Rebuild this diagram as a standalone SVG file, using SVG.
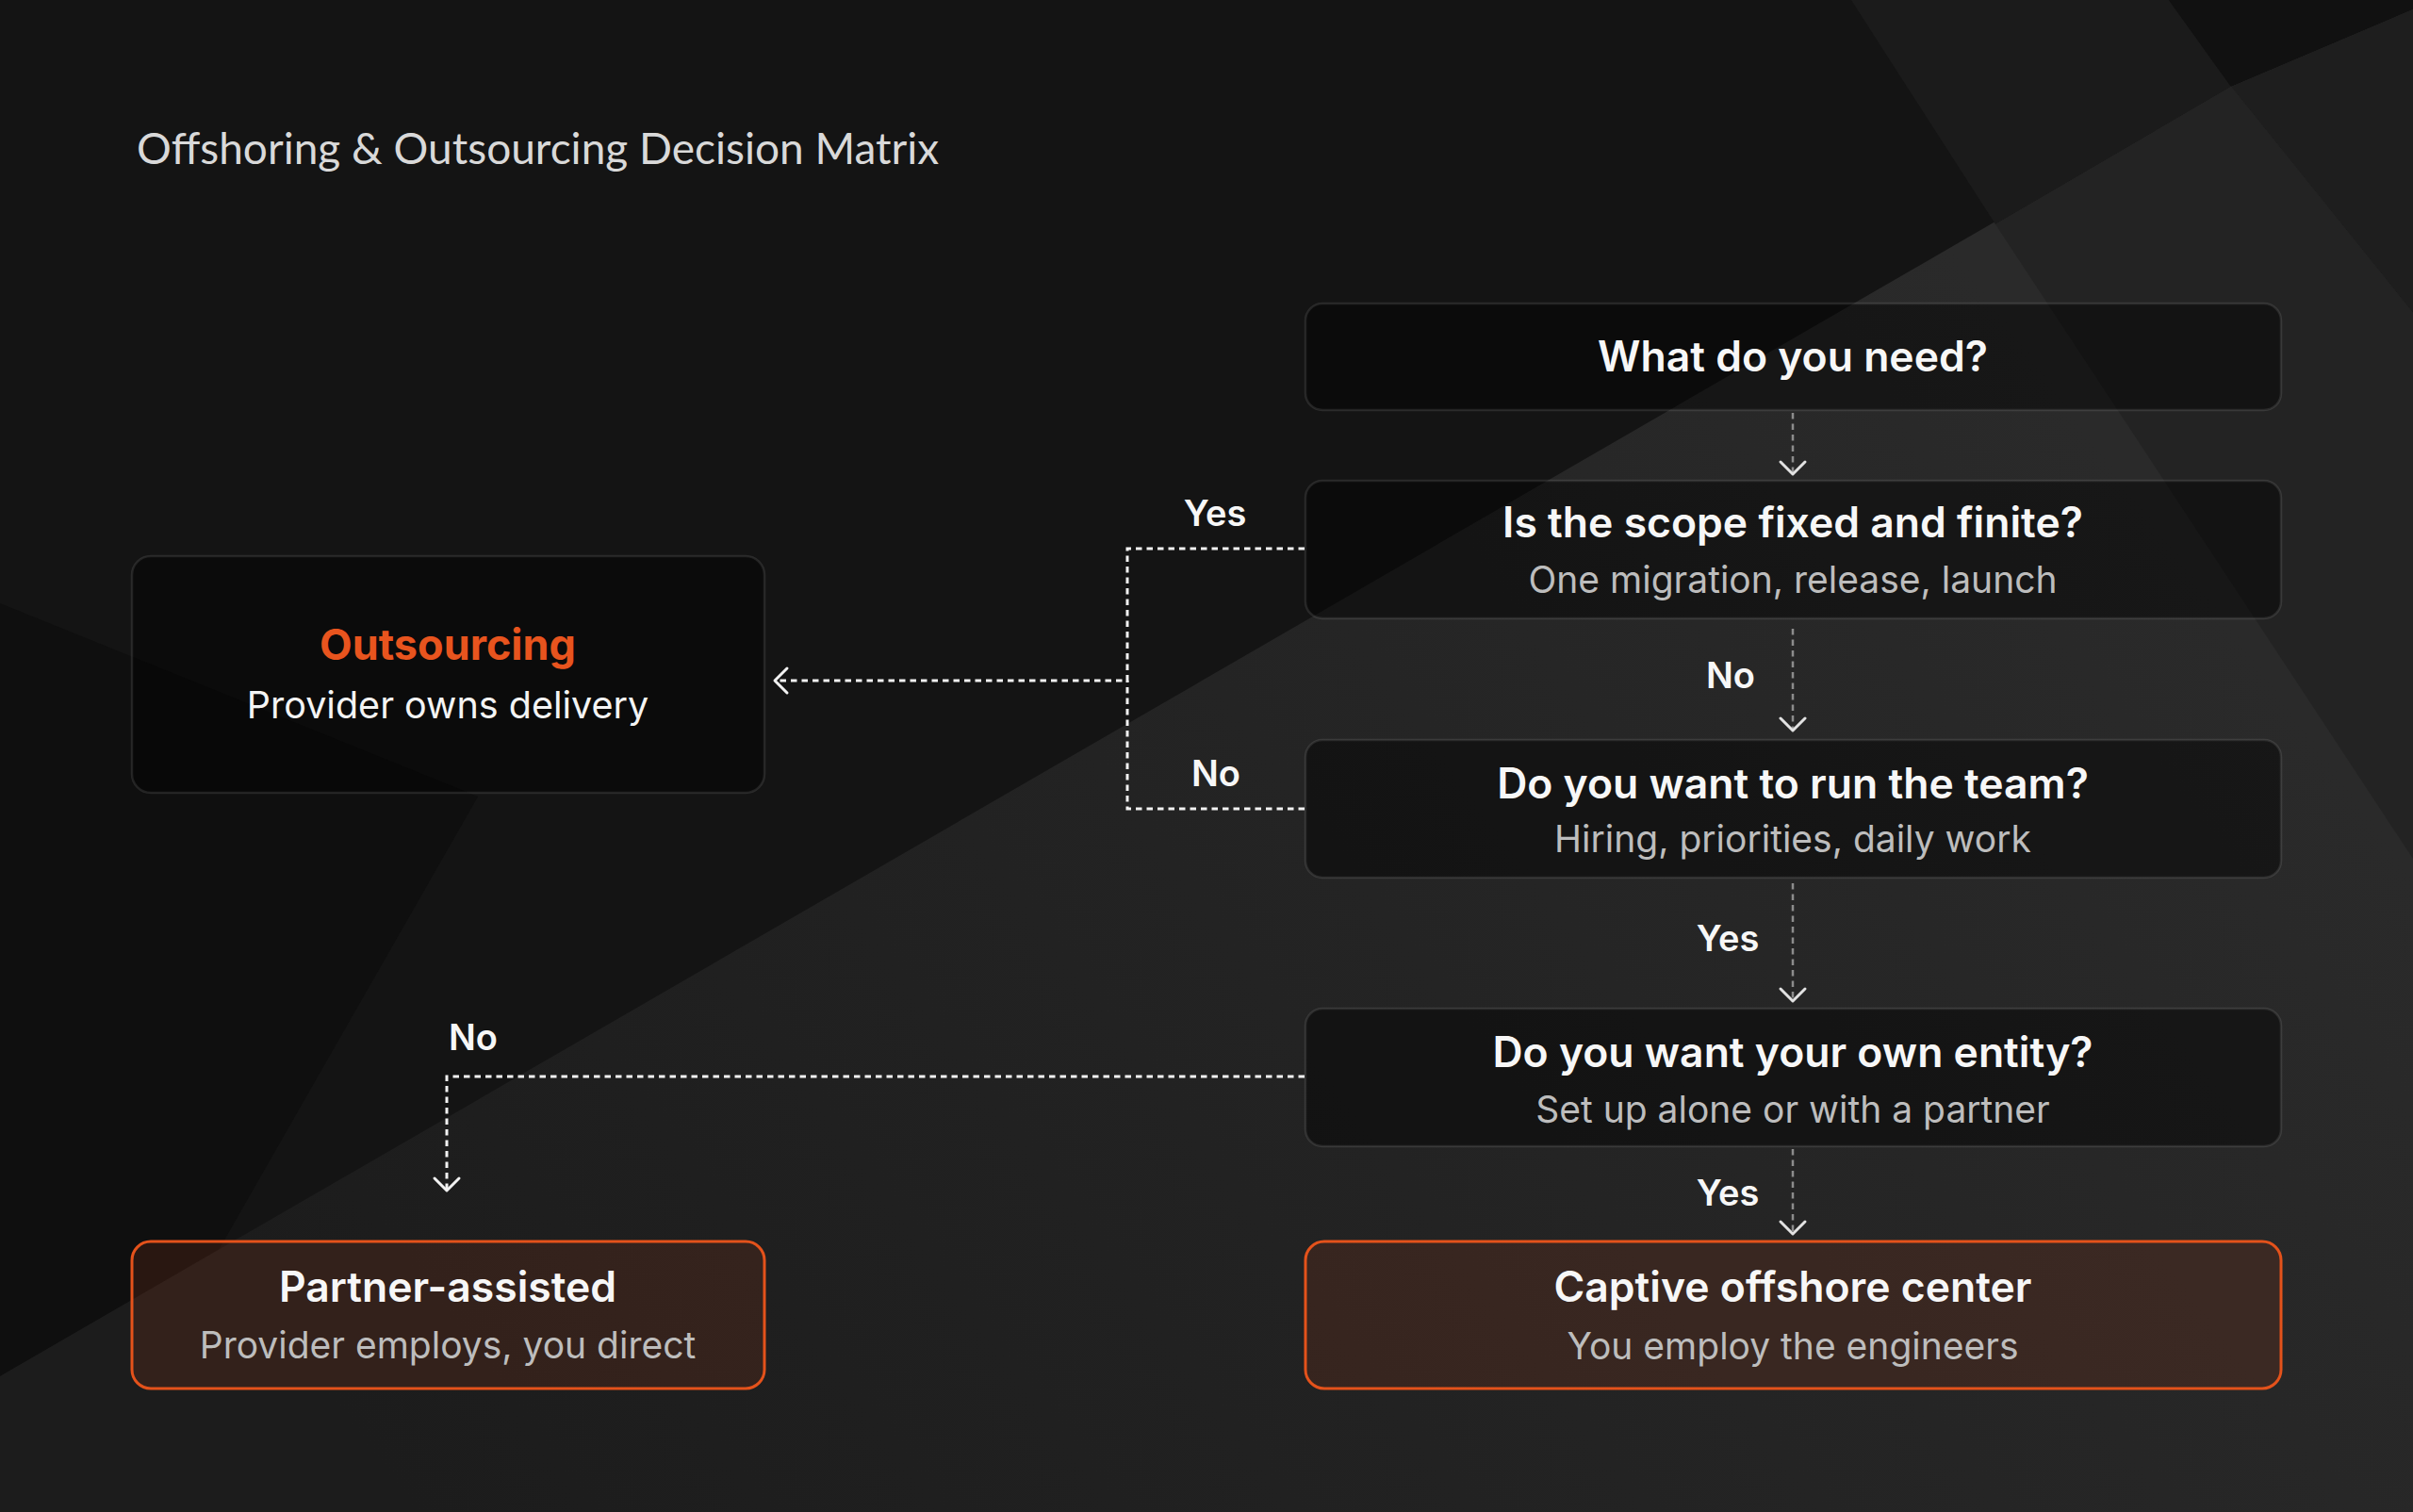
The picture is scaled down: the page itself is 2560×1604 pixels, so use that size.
<svg xmlns="http://www.w3.org/2000/svg" width="2560" height="1604" viewBox="0 0 2560 1604">
  <defs>
    <linearGradient id="gLow" gradientUnits="userSpaceOnUse" x1="2100" y1="300" x2="400" y2="1550">
      <stop offset="0" stop-color="#2a2a2a"/>
      <stop offset="1" stop-color="#1c1c1c"/>
    </linearGradient>
    <marker id="chev" viewBox="-16 -16 20 32" refX="0" refY="0" markerWidth="20" markerHeight="32" markerUnits="userSpaceOnUse" orient="auto">
      <path d="M-13,-13 L0,0 L-13,13" fill="none" stroke="#f2f2f2" stroke-width="3" stroke-linecap="round" stroke-linejoin="round"/>
    </marker>
    <marker id="chevg" viewBox="-16 -16 20 32" refX="0" refY="0" markerWidth="20" markerHeight="32" markerUnits="userSpaceOnUse" orient="auto">
      <path d="M-13,-13 L0,0 L-13,13" fill="none" stroke="#e2e2e2" stroke-width="3" stroke-linecap="round" stroke-linejoin="round"/>
    </marker>
  </defs>
  <style>
    .box { fill: rgba(0,0,0,0.45); stroke: rgba(255,255,255,0.10); stroke-width: 2.5; }
    .obox { fill: rgba(110,45,25,0.28); stroke: #e4521b; stroke-width: 3; }
    .t { font-family: Inter, "Liberation Sans", sans-serif; font-weight: 600; font-size: 44.5px; fill: #f7f7f7; text-anchor: middle; }
    .s { font-family: Inter, "Liberation Sans", sans-serif; font-weight: 400; font-size: 39px; fill: #bdbdbd; text-anchor: middle; }
    .lbl { font-family: Inter, "Liberation Sans", sans-serif; font-weight: 600; font-size: 38px; fill: #f7f7f7; text-anchor: middle; }
    .wl { fill: none; stroke: #f2f2f2; stroke-width: 3; stroke-dasharray: 6.5 5; }
    .gl { fill: none; stroke: #8c8c8c; stroke-width: 2.5; stroke-dasharray: 6.5 5; }
  </style>

  <g id="background">
    <rect width="2560" height="1604" fill="#141414"/>
    <polygon points="0,640 507,845 232,1326 0,1460" fill="#0f0f0f"/>
    <polygon points="0,1460 2523,0 2560,0 2560,1604 0,1604" fill="url(#gLow)"/>
    <polygon points="1964,0 2301,0 2367,92 2117,238" fill="#1b1b1b"/>
    <polygon points="2301,0 2560,0 2560,10 2367,92" fill="#111111"/>
    <polygon points="2367,92 2560,10 2560,332" fill="#1e1e1e"/>
    <polygon points="2117,238 2367,92 2560,332 2560,911" fill="#232323"/>
  </g>

  <text id="title" x="145" y="174" font-family="Lato, 'Open Sans', sans-serif" font-size="46" fill="#d9d9d9">Offshoring &amp; Outsourcing Decision Matrix</text>

  <g id="connectors">
    <line class="gl" x1="1902" y1="438" x2="1902" y2="503" marker-end="url(#chevg)"/>
    <line class="gl" x1="1902" y1="667" x2="1902" y2="775" marker-end="url(#chevg)"/>
    <line class="gl" x1="1902" y1="937" x2="1902" y2="1062" marker-end="url(#chevg)"/>
    <line class="gl" x1="1902" y1="1219" x2="1902" y2="1309" marker-end="url(#chevg)"/>
    <path class="wl" d="M1384,582 H1196 V722 H822" marker-end="url(#chev)"/>
    <path class="wl" d="M1384,858 H1196 V722"/>
    <path class="wl" d="M1384,1142 H474 V1263" marker-end="url(#chev)"/>
    <text class="lbl" x="1289" y="558">Yes</text>
    <text class="lbl" x="1290" y="834">No</text>
    <text class="lbl" x="1836" y="730">No</text>
    <text class="lbl" x="1833" y="1009">Yes</text>
    <text class="lbl" x="1833" y="1279">Yes</text>
    <text class="lbl" x="476" y="1114" style="text-anchor:start">No</text>
  </g>

  <g id="n-need">
    <rect class="box" x="1385" y="322" width="1035" height="113" rx="18"/>
    <text class="t" x="1902" y="394">What do you need?</text>
  </g>
  <g id="n-scope">
    <rect class="box" x="1385" y="510" width="1035" height="146" rx="18"/>
    <text class="t" x="1902" y="570">Is the scope fixed and finite?</text>
    <text class="s" x="1902" y="629">One migration, release, launch</text>
  </g>
  <g id="n-run">
    <rect class="box" x="1385" y="785" width="1035" height="146" rx="18"/>
    <text class="t" x="1902" y="847">Do you want to run the team?</text>
    <text class="s" x="1902" y="904">Hiring, priorities, daily work</text>
  </g>
  <g id="n-entity">
    <rect class="box" x="1385" y="1070" width="1035" height="146" rx="18"/>
    <text class="t" x="1902" y="1132">Do you want your own entity?</text>
    <text class="s" x="1902" y="1191">Set up alone or with a partner</text>
  </g>
  <g id="n-captive">
    <rect class="obox" x="1385" y="1317" width="1035" height="156" rx="20"/>
    <text class="t" x="1902" y="1381">Captive offshore center</text>
    <text class="s" x="1902" y="1442">You employ the engineers</text>
  </g>
  <g id="n-outsourcing">
    <rect class="box" x="140" y="590" width="671" height="251" rx="20"/>
    <text class="t" x="475" y="700" style="fill:#e8541e;font-weight:700;font-size:45px">Outsourcing</text>
    <text class="s" x="475" y="762" style="fill:#f4f4f4;font-size:39.5px">Provider owns delivery</text>
  </g>
  <g id="n-partner">
    <rect class="obox" x="140" y="1317" width="671" height="156" rx="20"/>
    <text class="t" x="475" y="1381">Partner-assisted</text>
    <text class="s" x="475" y="1441">Provider employs, you direct</text>
  </g>
</svg>
